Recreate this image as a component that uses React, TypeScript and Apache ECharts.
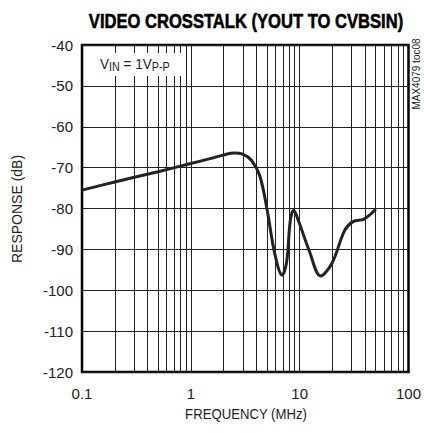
import React, { useEffect, useRef } from "react";
import * as echarts from "echarts";

const FONT = "'Liberation Sans', Arial, sans-serif";

const title = "VIDEO CROSSTALK (YOUT TO CVBSIN)";
const yTitle = "RESPONSE (dB)";
const xTitle = "FREQUENCY (MHz)";
const sideNote = "MAX4079 toc08";

const freqMHz = [0.1, 0.2, 0.5, 1, 1.5, 2, 2.5, 3, 3.6, 4.3, 5, 5.9, 6.9, 7.6, 8.2, 8.8, 9.8, 12.2, 15.6, 19.8, 26, 31, 39, 50];
const responseDb = [-75.5, -73.5, -71, -69, -67.8, -66.9, -66.4, -66.7, -68.2, -72, -80, -91, -96.3, -93, -83, -80.4, -83.2, -90.2, -96.5, -93.4, -85.3, -83.2, -82.6, -80.2];

const gridFreqs = [
  0.2, 0.3, 0.4, 0.5, 0.6, 0.7, 0.8, 0.9, 1,
  2, 3, 4, 5, 6, 7, 8, 9, 10,
  20, 30, 40, 50, 60, 70, 80, 90,
];

export default function App() {
  const ref = useRef<HTMLDivElement>(null);
  useEffect(() => {
    if (!ref.current) return;
    const chart = echarts.init(ref.current, null, { renderer: "svg" });
    chart.setOption({
      animation: false,
      backgroundColor: "#fff",
      grid: {
        left: 82,
        right: 13,
        top: 45,
        bottom: 61,
        show: true,
        borderColor: "#000",
        borderWidth: 2.5,
        backgroundColor: "transparent",
      },
      xAxis: {
        type: "log",
        logBase: 10,
        min: 0.1,
        max: 100,
        axisLine: { show: false },
        axisTick: { show: false },
        splitLine: { show: false },
        axisLabel: {
          fontFamily: FONT,
          fontSize: 15,
          color: "#222",
          margin: 14,
          formatter: (v: number) => String(Number(v.toPrecision(3))),
        },
      },
      yAxis: {
        type: "value",
        min: -120,
        max: -40,
        interval: 10,
        axisLine: { show: false },
        axisTick: { show: false },
        splitLine: { show: true, lineStyle: { color: "#222", width: 1 } },
        axisLabel: {
          fontFamily: FONT,
          fontSize: 15,
          color: "#222",
          margin: 9,
        },
      },
      series: [
        {
          type: "line",
          data: [],
          z: 1,
          silent: true,
          markLine: {
            silent: true,
            symbol: ["none", "none"],
            label: { show: false },
            lineStyle: { color: "#222", width: 1, type: "solid" },
            data: gridFreqs.map((f) => ({ xAxis: f })),
          },
        },
        {
          type: "line",
          z: 5,
          data: freqMHz.map((f, i) => [f, responseDb[i]]),
          smooth: 0.35,
          showSymbol: false,
          lineStyle: { color: "#222", width: 3 },
        },
      ],
      graphic: [
        {
          type: "text",
          x: 246,
          y: 21,
          scaleX: 0.79,
          style: {
            text: title,
            align: "center",
            verticalAlign: "middle",
            fontFamily: FONT,
            fontWeight: "bold",
            fontSize: 21,
            fill: "#000",
            stroke: "#000",
            lineWidth: 0.6,
          },
        },
        {
          type: "rect",
          z: 10,
          shape: { x: 96, y: 53, width: 87, height: 23 },
          style: { fill: "#fff" },
        },
        {
          type: "text",
          z: 11,
          x: 100,
          y: 54,
          scaleX: 0.9,
          style: {
            text: "{a|V}{b|IN}{a| = 1V}{b|P-P}",
            align: "left",
            verticalAlign: "top",
            rich: {
              a: { fontFamily: FONT, fontSize: 15, lineHeight: 19, fill: "#222", verticalAlign: "middle" },
              b: { fontFamily: FONT, fontSize: 12, lineHeight: 12, fill: "#222", verticalAlign: "bottom" },
            },
          },
        },
        {
          type: "text",
          x: 416,
          y: 74,
          rotation: Math.PI / 2,
          style: {
            text: sideNote,
            align: "center",
            verticalAlign: "middle",
            fontFamily: FONT,
            fontSize: 10,
            fill: "#222",
          },
        },
        {
          type: "text",
          x: 17,
          y: 209,
          rotation: Math.PI / 2,
          style: {
            text: yTitle,
            align: "center",
            verticalAlign: "middle",
            fontFamily: FONT,
            fontSize: 14,
            fill: "#222",
          },
        },
        {
          type: "text",
          x: 246,
          y: 414,
          scaleX: 0.94,
          style: {
            text: xTitle,
            align: "center",
            verticalAlign: "middle",
            fontFamily: FONT,
            fontSize: 14,
            fill: "#222",
          },
        },
      ],
    });
    return () => chart.dispose();
  }, []);
  return <div ref={ref} style={{ width: 424, height: 433, position: "absolute", left: 0, top: 0 }} />;
}
